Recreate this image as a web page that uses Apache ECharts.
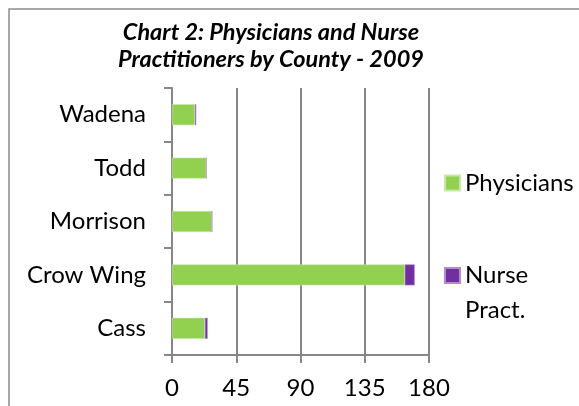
<!DOCTYPE html>
<html>
<head>
<meta charset="utf-8">
<script src="https://cdn.jsdelivr.net/npm/echarts@6/dist/echarts.min.js"></script>
<style>
  html, body { margin: 0; padding: 0; background: #fff; }
  #chart { width: 579px; height: 406px; }
</style>
</head>
<body>
<div id="chart"></div>
<script>
// data
const counties = ['Cass', 'Crow Wing', 'Morrison', 'Todd', 'Wadena']
const physicians = [23, 163, 28, 24, 16]
const nursePract = [2, 7, 0, 0, 1]
const xTicks = [0, 45, 90, 135, 180]

const font = 'Lato'
const gray = '#878787'

function renderChart() {
  const chart = echarts.init(document.getElementById('chart'))
  const option = {
    animation: false,
    textStyle: { fontFamily: font, color: '#000' },
    title: {
      text: 'Chart 2: Physicians and Nurse\nPractitioners by County - 2009',
      left: 266,
      textAlign: 'center',
      top: 14,
      textStyle: {
        fontFamily: font,
        fontSize: 23.5,
        fontWeight: 'bold',
        fontStyle: 'italic',
        lineHeight: 27,
        color: '#000'
      }
    },
    graphic: [
      {
        type: 'rect',
        shape: { x: 9, y: 9, width: 700, height: 600 },
        style: { fill: 'none', stroke: '#8c8c8c', lineWidth: 1.5 },
        silent: true
      }
    ],
    legend: [
      {
        data: ['Physicians'],
        orient: 'vertical',
        left: 439,
        top: 166,
        itemWidth: 15,
        itemHeight: 15,
        icon: 'rect',
        textStyle: { fontFamily: font, fontSize: 24, color: '#000' }
      },
      {
        // leading blank line keeps the marker level with the first line
        data: ['Nurse Pract.'],
        orient: 'vertical',
        left: 439,
        top: 218,
        itemWidth: 15,
        itemHeight: 15,
        icon: 'rect',
        formatter: () => ' \nNurse\nPract.',
        textStyle: { fontFamily: font, fontSize: 24, lineHeight: 35, color: '#000' }
      }
    ],
    grid: { left: 172, top: 88, width: 257, height: 267 },
    xAxis: {
      type: 'value',
      min: xTicks[0],
      max: xTicks[xTicks.length - 1],
      interval: 45,
      axisLine: { show: true, lineStyle: { color: gray, width: 2 } },
      axisTick: { show: true, length: 8, lineStyle: { color: gray, width: 2 } },
      splitLine: { show: true, lineStyle: { color: gray, width: 2 } },
      axisLabel: { margin: 21, fontSize: 24, fontFamily: font, color: '#000' }
    },
    yAxis: {
      type: 'category',
      data: counties,
      axisLine: { show: true, lineStyle: { color: gray, width: 2 } },
      axisTick: { show: true, length: 8, lineStyle: { color: gray, width: 2 } },
      axisLabel: { margin: 26, fontSize: 24, fontFamily: font, color: '#000' }
    },
    series: [
      {
        name: 'Physicians',
        type: 'bar',
        stack: 'total',
        data: physicians,
        barWidth: 21,
        itemStyle: { color: '#92D050', borderColor: '#c8e8a8', borderWidth: 0.6 }
      },
      {
        name: 'Nurse Pract.',
        type: 'bar',
        stack: 'total',
        data: nursePract,
        barWidth: 21,
        itemStyle: { color: '#7030A0', borderColor: '#b48ad2', borderWidth: 0.6 }
      }
    ]
  }
  chart.setOption(option)
}

document.addEventListener('DOMContentLoaded', renderChart)
</script>
</body>
</html>
